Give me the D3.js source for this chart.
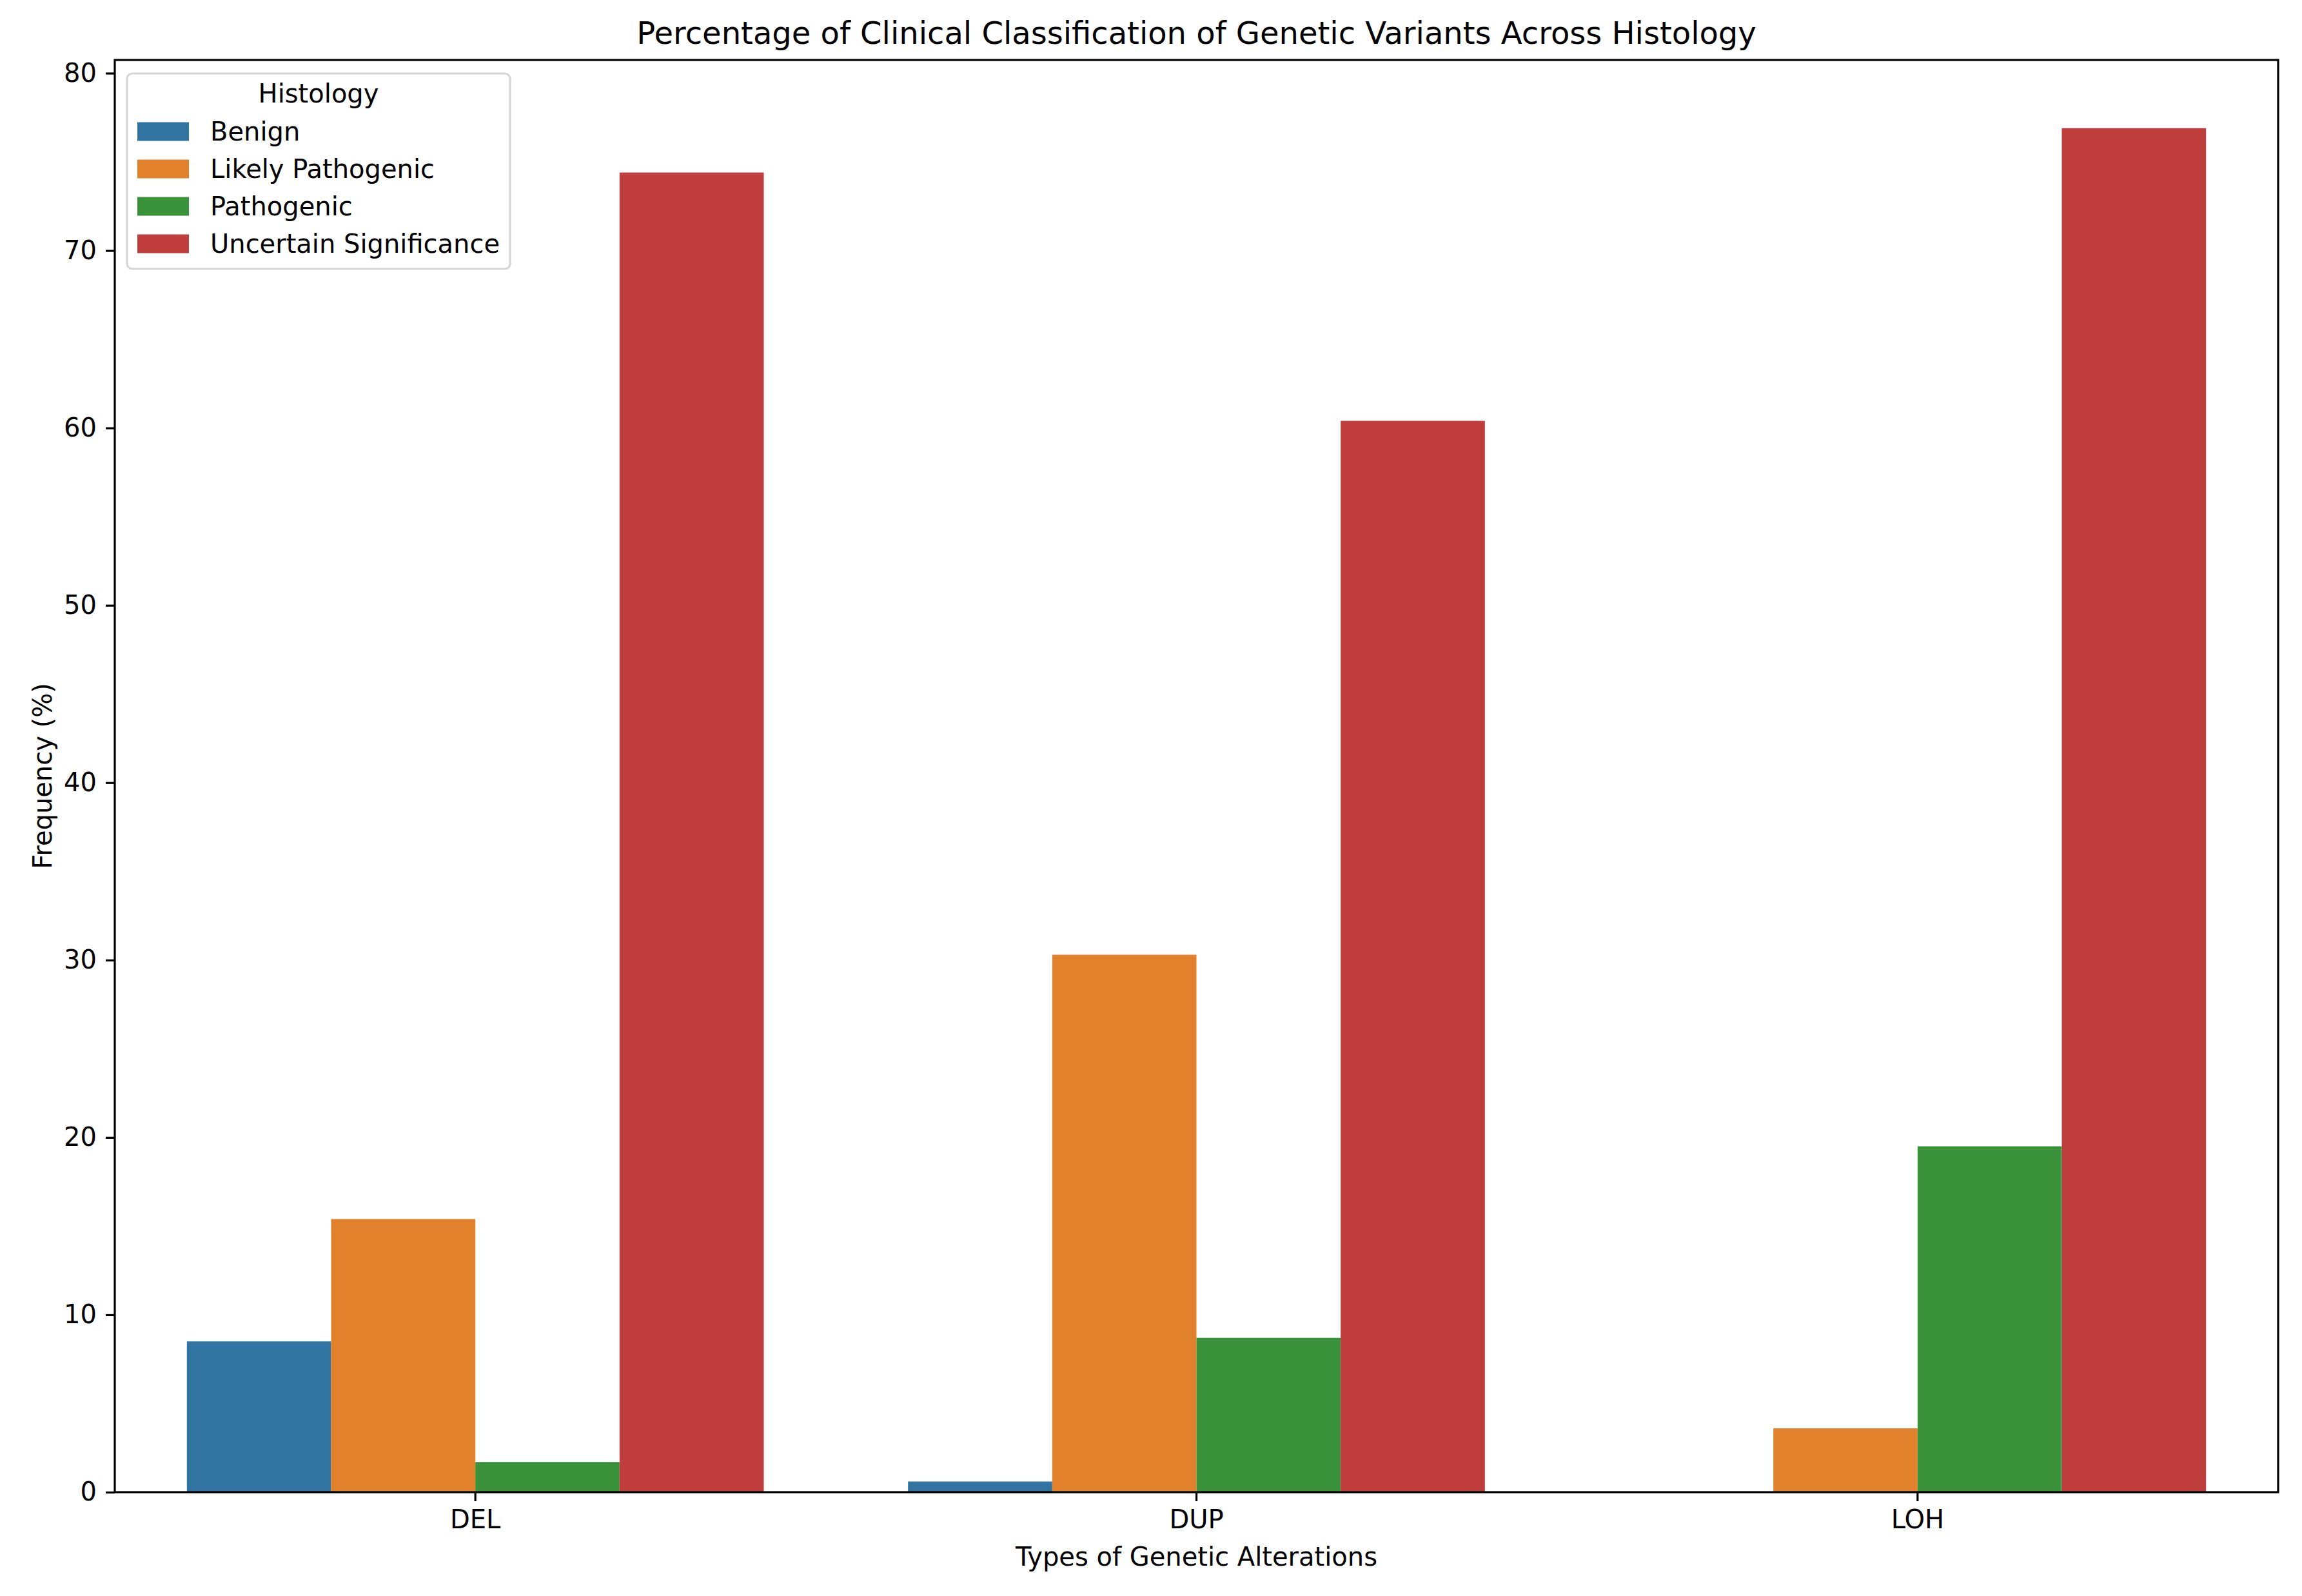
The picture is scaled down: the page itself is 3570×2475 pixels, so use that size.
<!DOCTYPE html>
<html>
<head>
<meta charset="utf-8">
<script src="https://cdn.jsdelivr.net/npm/d3@7"></script>
<style>
  body { margin: 0; background: #fff; }
  text { font-family: "DejaVu Sans", sans-serif; fill: #000; }
</style>
</head>
<body>
<svg id="chart" width="3570" height="2475"></svg>
<script>
// data
var categories = ['DEL', 'DUP', 'LOH'];
var histology = ['Benign', 'Likely Pathogenic', 'Pathogenic', 'Uncertain Significance'];
var benign = [8.5, 0.6, 0];
var likelyPathogenic = [15.4, 30.3, 3.6];
var pathogenic = [1.7, 8.7, 19.5];
var uncertain = [74.4, 60.4, 76.9];
var yTicks = [0, 10, 20, 30, 40, 50, 60, 70, 80];
var colors = ['#3274a1', '#e1812c', '#3a923a', '#c03d3e'];

var seriesValues = [benign, likelyPathogenic, pathogenic, uncertain];

var svg = d3.select('#chart');
svg.append('rect').attr('width', 3570).attr('height', 2475).attr('fill', '#fff');

var plot = { left: 178, right: 3533, top: 93, bottom: 2314 };
var fs = 40;
var tickLen = 14;
var lw = 3.2;

var x = d3.scaleBand()
  .domain(categories)
  .range([plot.left, plot.right])
  .paddingInner(0.2)
  .paddingOuter(0.1);

var xHue = d3.scaleBand()
  .domain(histology)
  .range([0, x.bandwidth()]);

var yMax = d3.max(seriesValues, function (s) { return d3.max(s); }) * 1.05;
var y = d3.scaleLinear().domain([0, yMax]).range([plot.bottom, plot.top]);

// flatten into bar records
var bars = [];
histology.forEach(function (h, i) {
  categories.forEach(function (c, j) {
    bars.push({ cat: c, hue: h, value: seriesValues[i][j], color: colors[i] });
  });
});

svg.append('g').attr('class', 'bars')
  .selectAll('rect')
  .data(bars)
  .enter().append('rect')
  .attr('x', function (d) { return x(d.cat) + xHue(d.hue); })
  .attr('width', xHue.bandwidth())
  .attr('y', function (d) { return y(d.value); })
  .attr('height', function (d) { return y(0) - y(d.value); })
  .attr('fill', function (d) { return d.color; });

// axes
var yAxis = d3.axisLeft(y).tickValues(yTicks).tickSize(tickLen).tickPadding(tickLen);
var gy = svg.append('g').attr('transform', 'translate(' + plot.left + ',0)').call(yAxis);

var xAxis = d3.axisBottom(x).tickSize(tickLen).tickPadding(tickLen);
var gx = svg.append('g').attr('transform', 'translate(0,' + plot.bottom + ')').call(xAxis);

[gy, gx].forEach(function (g) {
  g.select('.domain').remove();
  g.selectAll('line').attr('stroke', '#000').attr('stroke-width', lw);
  g.selectAll('text').attr('font-size', fs).attr('font-family', '"DejaVu Sans", sans-serif');
});

// spines
svg.append('rect')
  .attr('x', plot.left).attr('y', plot.top)
  .attr('width', plot.right - plot.left).attr('height', plot.bottom - plot.top)
  .attr('fill', 'none').attr('stroke', '#000').attr('stroke-width', lw)
  .attr('stroke-linejoin', 'miter');

// title and labels
svg.append('text')
  .attr('x', (plot.left + plot.right) / 2).attr('y', 68)
  .attr('text-anchor', 'middle').attr('font-size', 48)
  .text('Percentage of Clinical Classification of Genetic Variants Across Histology');

svg.append('text')
  .attr('x', (plot.left + plot.right) / 2).attr('y', 2428)
  .attr('text-anchor', 'middle').attr('font-size', fs)
  .text('Types of Genetic Alterations');

svg.append('text')
  .attr('transform', 'translate(80,' + (plot.top + plot.bottom) / 2 + ') rotate(-90)')
  .attr('text-anchor', 'middle').attr('font-size', fs)
  .text('Frequency (%)');

// legend
var legend = svg.append('g').attr('class', 'legend');
legend.append('rect')
  .attr('x', 197).attr('y', 114).attr('width', 594).attr('height', 303)
  .attr('rx', 8).attr('ry', 8)
  .attr('fill', '#fff').attr('fill-opacity', 0.8)
  .attr('stroke', '#d6d6d6').attr('stroke-width', lw);

legend.append('text')
  .attr('x', 494).attr('y', 159)
  .attr('text-anchor', 'middle').attr('font-size', fs)
  .text('Histology');

var items = legend.selectAll('g.item')
  .data(histology)
  .enter().append('g').attr('class', 'item')
  .attr('transform', function (d, i) { return 'translate(0,' + (204 + i * 58) + ')'; });

items.append('rect')
  .attr('x', 213).attr('y', -14.5).attr('width', 80).attr('height', 29)
  .attr('fill', function (d, i) { return colors[i]; });

items.append('text')
  .attr('x', 326).attr('y', 0).attr('dy', '0.36em')
  .attr('font-size', fs)
  .text(function (d) { return d; });
</script>
</body>
</html>
